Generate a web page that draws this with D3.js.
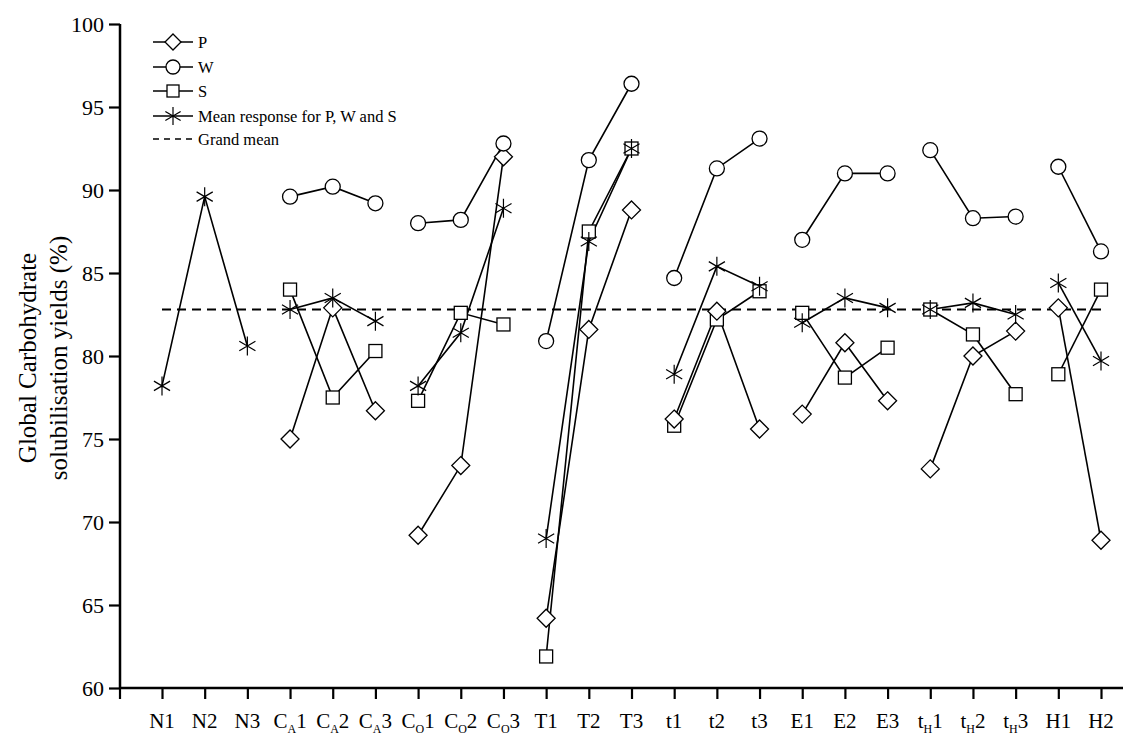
<!DOCTYPE html>
<html><head><meta charset="utf-8">
<script src="https://cdn.jsdelivr.net/npm/d3@7"></script>
<style>body{margin:0;background:#fff}svg{display:block}text{font-family:"Liberation Serif","Times New Roman",serif;fill:#000}</style>
</head><body><svg id="c" width="1123" height="738"></svg>
<script>
const categories = ["N1","N2","N3","C_A1","C_A2","C_A3","C_O1","C_O2","C_O3","T1","T2","T3","t1","t2","t3","E1","E2","E3","t_H1","t_H2","t_H3","H1","H2"];
const groups = [["N1","N2","N3"],["C_A1","C_A2","C_A3"],["C_O1","C_O2","C_O3"],["T1","T2","T3"],["t1","t2","t3"],["E1","E2","E3"],["t_H1","t_H2","t_H3"],["H1","H2"]];
const pValues    = [null,null,null,75.0,82.9,76.7,69.2,73.4,92.0,64.2,81.6,88.8,76.2,82.7,75.6,76.5,80.8,77.3,73.2,80.0,81.5,82.9,68.9];
const wValues    = [null,null,null,89.6,90.2,89.2,88.0,88.2,92.8,80.9,91.8,96.4,84.7,91.3,93.1,87.0,91.0,91.0,92.4,88.3,88.4,91.4,86.3];
const sValues    = [null,null,null,84.0,77.5,80.3,77.3,82.6,81.9,61.9,87.5,92.5,75.8,82.2,83.9,82.6,78.7,80.5,82.8,81.3,77.7,78.9,84.0];
const meanValues = [78.2,89.6,80.6,82.8,83.5,82.1,78.2,81.4,88.9,69.0,86.9,92.5,78.9,85.4,84.2,82.0,83.5,82.9,82.8,83.2,82.5,84.4,79.7];
const grandMean = 82.8;
const yTicks = [60,65,70,75,80,85,90,95,100];
const legendLabels = ["P","W","S","Mean response for P, W and S","Grand mean"];
const yTitle = ["Global Carbohydrate","solubilisation yields (%)"];

const svg = d3.select("#c");
const x = d3.scalePoint().domain(categories).range([162,1101]);
const y = d3.scaleLinear().domain([60,100]).range([688,24]);

function diamond(s,r){ s.append("path").attr("d",`M0,${-r}L${r},0L0,${r}L${-r},0Z`).attr("fill","#fff").attr("stroke","#000").attr("stroke-width",1.3); }
function circle(s,r){ s.append("circle").attr("r",r).attr("fill","#fff").attr("stroke","#000").attr("stroke-width",1.3); }
function square(s,r){ s.append("rect").attr("x",-r).attr("y",-r).attr("width",2*r).attr("height",2*r).attr("fill","#fff").attr("stroke","#000").attr("stroke-width",1.3); }
function aster(s,r){
  s.append("path").attr("d",`M0,${-r}L0,${r}M${-r*0.85},${-r*0.5}L${r*0.85},${r*0.5}M${-r*0.85},${r*0.5}L${r*0.85},${-r*0.5}`).attr("stroke","#000").attr("stroke-width",1.2).attr("fill","none");
}

const yAxis = d3.axisLeft(y).tickValues(yTicks).tickSize(11).tickSizeOuter(0).tickFormat(d3.format("d"));
const gy = svg.append("g").attr("transform","translate(120,0)").call(yAxis);
gy.select(".domain").remove();
gy.selectAll(".tick line").attr("stroke","#000").attr("stroke-width",2.2);
gy.selectAll(".tick text").attr("x",-16).attr("dy","0.35em").style("font-size","22px").style("font-family","Liberation Serif");
svg.append("line").attr("x1",120).attr("x2",120).attr("y1",y(100)).attr("y2",y(60)+1).attr("stroke","#000").attr("stroke-width",2.5);

const xAxis = d3.axisBottom(x).tickSize(11).tickSizeOuter(0).tickFormat("");
const gx = svg.append("g").attr("transform",`translate(0,${y(60)})`).call(xAxis);
gx.select(".domain").remove();
gx.selectAll(".tick line").attr("stroke","#000").attr("stroke-width",2.2);
svg.append("line").attr("x1",119).attr("x2",1123).attr("y1",y(60)).attr("y2",y(60)).attr("stroke","#000").attr("stroke-width",2.5);
svg.append("line").attr("x1",120).attr("x2",120).attr("y1",y(60)).attr("y2",y(60)+11).attr("stroke","#000").attr("stroke-width",2.2);

categories.forEach(c=>{
  const t = svg.append("text").attr("x",x(c)).attr("y",y(60)+40).attr("text-anchor","middle").style("font-size","21px");
  if(c.includes("_")){
    const [main,rest] = c.split("_");
    t.append("tspan").text(main);
    t.append("tspan").text(rest[0]).style("font-size","12px").attr("dy",5);
    t.append("tspan").text(rest.slice(1)).attr("dy",-5);
  } else t.text(c);
});

yTitle.forEach((line,i)=>{
  svg.append("text").attr("transform",`translate(${36+i*31},${y(80)+2}) rotate(-90)`).attr("text-anchor","middle").style("font-size","25px").text(line);
});

svg.append("line").attr("x1",x("N1")).attr("x2",x("H2")).attr("y1",y(grandMean)).attr("y2",y(grandMean)).attr("stroke","#000").attr("stroke-width",1.8).attr("stroke-dasharray","9,6");

const series = [
  {vals:sValues, sym:(s)=>square(s,6.5)},
  {vals:pValues, sym:(s)=>diamond(s,9)},
  {vals:wValues, sym:(s)=>circle(s,7.5)},
  {vals:meanValues, sym:(s)=>aster(s,9.5)}
];
const line = d3.line().x(d=>x(d.c)).y(d=>y(d.v));
series.forEach(se=>{
  groups.forEach(g=>{
    const pts = g.map(c=>({c,v:se.vals[categories.indexOf(c)]})).filter(d=>d.v!=null);
    if(pts.length>1) svg.append("path").attr("d",line(pts)).attr("fill","none").attr("stroke","#000").attr("stroke-width",1.6);
  });
});
series.forEach(se=>{
  categories.forEach((c,i)=>{
    const v = se.vals[i]; if(v==null) return;
    const g = svg.append("g").attr("transform",`translate(${x(c)},${y(v)})`);
    se.sym(g);
  });
});

const legSyms = [(s)=>diamond(s,8),(s)=>circle(s,7),(s)=>square(s,6),(s)=>aster(s,9),null];
const legY = [42,67,91,116,139];
legendLabels.forEach((lab,i)=>{
  const yy = legY[i];
  if(i<4){
    svg.append("line").attr("x1",153).attr("x2",193).attr("y1",yy).attr("y2",yy).attr("stroke","#000").attr("stroke-width",1.6);
    const g = svg.append("g").attr("transform",`translate(173,${yy})`); legSyms[i](g);
  } else {
    svg.append("line").attr("x1",153).attr("x2",193).attr("y1",yy).attr("y2",yy).attr("stroke","#000").attr("stroke-width",1.6).attr("stroke-dasharray","6,5");
  }
  svg.append("text").attr("x",198).attr("y",yy).attr("dy","0.35em").style("font-size","16.5px").text(lab);
});
</script></body></html>
